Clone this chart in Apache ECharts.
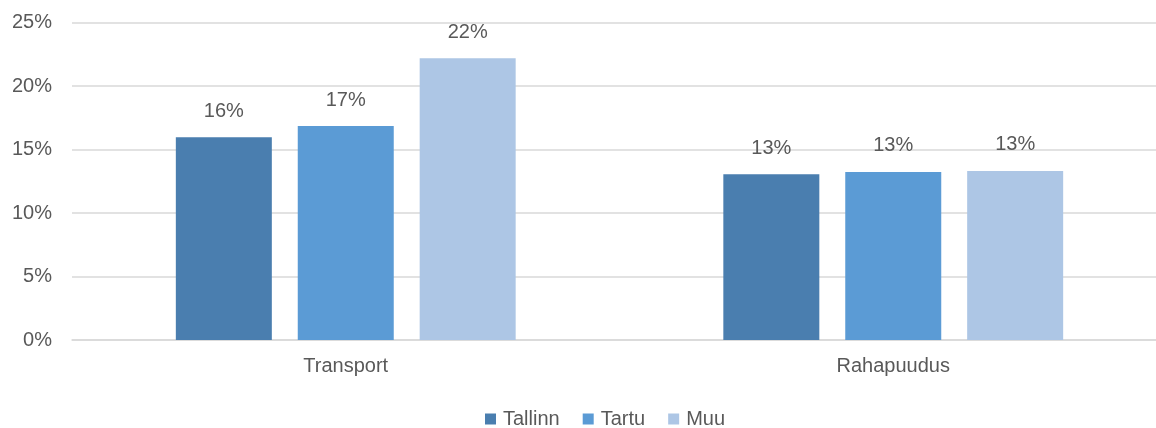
<!DOCTYPE html>
<html>
<head>
<meta charset="utf-8">
<script src="https://cdn.jsdelivr.net/npm/echarts@6/dist/echarts.min.js"></script>
<style>
	html, body { margin: 0; padding: 0; background: #fff; overflow: hidden; }
	#chart { width: 1168px; height: 428px; }
</style>
</head>
<body>
<div id="chart"></div>
<script>
// andmed
var categories = ['Transport', 'Rahapuudus'];
var seriesNames = ['Tallinn', 'Tartu', 'Muu'];
var tallinn = [15.96, 13.05];
var tartu = [16.85, 13.23];
var muu = [22.18, 13.31];
var yTicks = [0, 5, 10, 15, 20, 25];

var colors = ['#4A7EAF', '#5B9BD5', '#ADC6E5'];
var textColor = '#595959';
var fontFamily = '"Liberation Sans", Arial, sans-serif';

var myChart = echarts.init(document.getElementById('chart'));

function makeSeries(name, data, color) {
	return {
		name: name,
		type: 'bar',
		data: data,
		barWidth: 96,
		barGap: '27%',
		itemStyle: { color: color },
		label: {
			show: true,
			position: 'top',
			distance: 16,
			color: textColor,
			fontSize: 20,
			fontFamily: fontFamily,
			formatter: function(p) {
				return Math.round(p.value) + '%';
			}
		}
	};
}

var option = {
	animation: false,
	textStyle: { fontFamily: fontFamily },
	grid: {
		left: 72,
		top: 22.5,
		width: 1095,
		height: 317.5,
		containLabel: false
	},
	legend: {
		data: seriesNames,
		left: 480,
		top: 404,
		icon: 'rect',
		itemWidth: 11,
		itemHeight: 11,
		itemGap: 23,
		textStyle: {
			color: textColor,
			fontSize: 20,
			padding: [0, 0, 0, 2]
		}
	},
	xAxis: {
		type: 'category',
		data: categories,
		axisLine: { lineStyle: { color: '#D9D9D9', width: 1.5 } },
		axisTick: { show: false },
		axisLabel: {
			color: textColor,
			fontSize: 20,
			margin: 16
		}
	},
	yAxis: {
		type: 'value',
		min: yTicks[0],
		max: yTicks[yTicks.length - 1],
		interval: 5,
		axisLine: { show: false },
		axisTick: { show: false },
		splitLine: { lineStyle: { color: '#D9D9D9', width: 1.5 } },
		axisLabel: {
			color: textColor,
			fontSize: 20,
			margin: 20,
			formatter: '{value}%'
		}
	},
	series: [
		makeSeries(seriesNames[0], tallinn, colors[0]),
		makeSeries(seriesNames[1], tartu, colors[1]),
		makeSeries(seriesNames[2], muu, colors[2])
	]
};

myChart.setOption(option);
</script>
</body>
</html>
